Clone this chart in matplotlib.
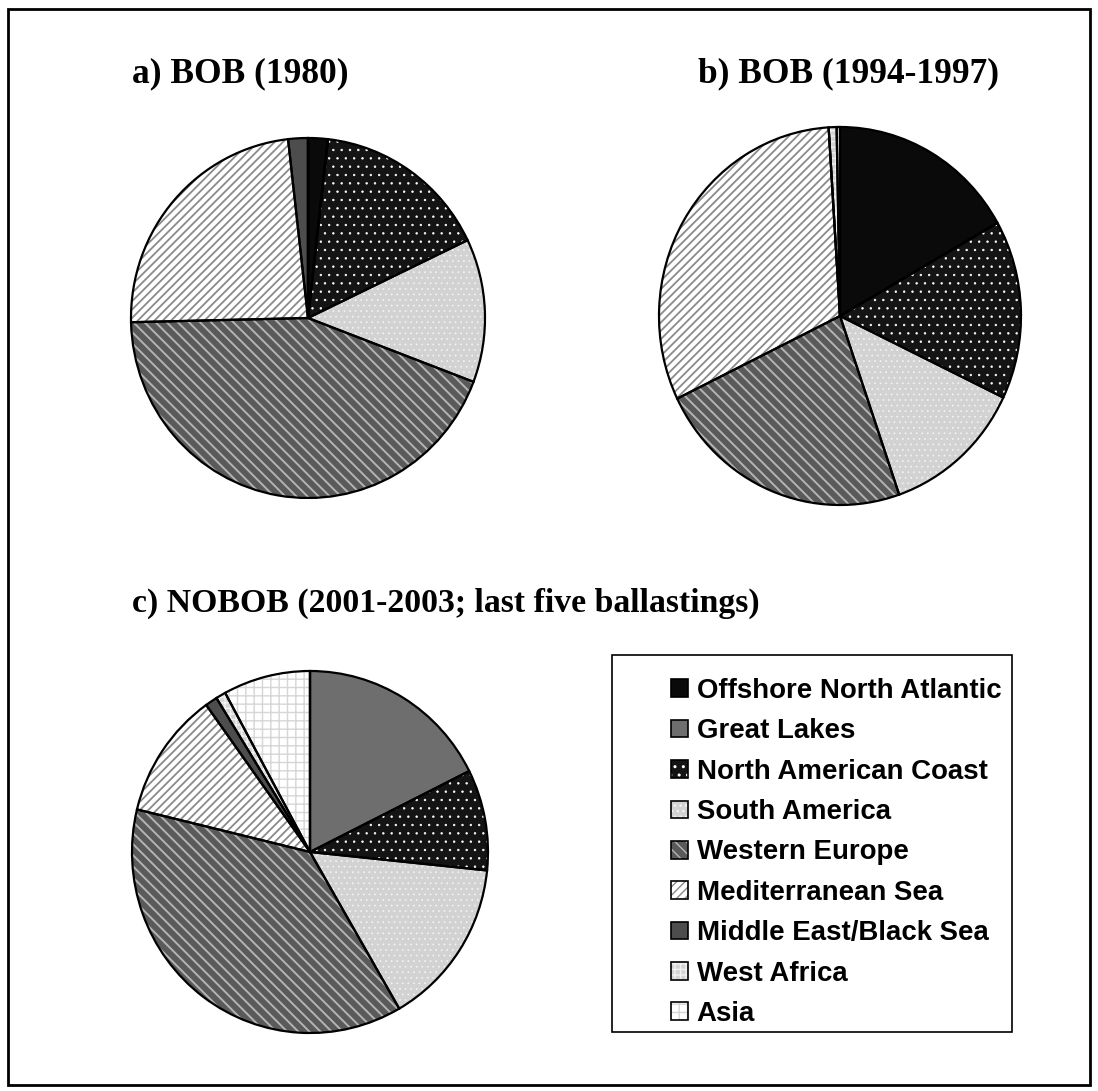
import matplotlib
matplotlib.use("Agg")
import matplotlib.pyplot as plt
from matplotlib.patches import Patch, Rectangle
from matplotlib.font_manager import FontProperties

# regions (legend order = wedge order, clockwise from 12 o'clock)
regions = ["Offshore North Atlantic", "Great Lakes", "North American Coast",
           "South America", "Western Europe", "Mediterranean Sea",
           "Middle East/Black Sea", "West Africa", "Asia"]

# percent of ballast water sources
bob_1980 = [1.8, 0.0, 16.1, 12.9, 43.9, 23.6, 1.8, 0.0, 0.0]
bob_1994_1997 = [16.8, 0.0, 15.3, 12.6, 23.1, 31.2, 0.0, 0.7, 0.3]
nobob_2001_2003 = [0.0, 17.6, 9.0, 15.0, 37.1, 11.3, 1.1, 0.9, 7.9]

titles = ["a) BOB (1980)", "b) BOB (1994-1997)",
          "c) NOBOB (2001-2003; last five ballastings)"]

face_colors = ["#0a0a0a", "#6e6e6e", "#141414", "#d2d2d2", "#5a5a5a",
               "#ffffff", "#4d4d4d", "#d4d4d4", "#ffffff"]
hatches = ["", "", "..", "...", "\\\\\\", "////", "", "+++", "++"]
hatch_colors = ["#0a0a0a", "#6e6e6e", "#ffffff", "#f4f4f4", "#b4b4b4",
                "#8a8a8a", "#4d4d4d", "#f2f2f2", "#d6d6d6"]
hatch_widths = [1.0, 1.0, 0.5, 0.5, 1.4, 1.3, 1.0, 1.0, 1.0]

W, H = 1098, 1091
fig = plt.figure(figsize=(W / 100, H / 100), dpi=100)


def pie_axes(cx, cy, rx, ry, pad=1.04):
    ax = fig.add_axes([(cx - rx * pad) / W, 1 - (cy + ry * pad) / H,
                       2 * rx * pad / W, 2 * ry * pad / H])
    return ax


def set_hatch(p, h, hc, hw):
    p.set_hatch(h)
    p.set_edgecolor(hc)
    if hasattr(p, "set_hatch_linewidth"):
        p.set_hatch_linewidth(hw)


def draw_pie(ax, values, pad=1.04):
    kw = dict(startangle=90, counterclock=False)
    ax.pie(values, colors=face_colors, wedgeprops=dict(linewidth=0), **kw)
    hw, _ = ax.pie(values, colors=["none"] * len(values),
                   wedgeprops=dict(linewidth=0), **kw)
    for w, h, hc, lw in zip(hw, hatches, hatch_colors, hatch_widths):
        set_hatch(w, h, hc, lw)
    ax.pie(values, colors=["none"] * len(values),
           wedgeprops=dict(linewidth=1.6, edgecolor="black"), **kw)
    ax.set_aspect("auto")
    ax.set_xlim(-pad, pad)
    ax.set_ylim(-pad, pad)
    ax.axis("off")


draw_pie(pie_axes(308, 318, 177, 180), bob_1980)
draw_pie(pie_axes(840, 316, 181, 189), bob_1994_1997)
draw_pie(pie_axes(310, 852, 178, 181), nobob_2001_2003)

tfont = dict(family="Liberation Serif", weight="bold")
fig.text(240 / W, 1 - 74 / H, titles[0], ha="center", va="center", size=25.5, **tfont)
fig.text(848 / W, 1 - 74 / H, titles[1], ha="center", va="center", size=25.5, **tfont)
fig.text(132 / W, 1 - 603 / H, titles[2], ha="left", va="center", size=24.3, **tfont)

# legend
handles = []
for fc, h, hc, lw in zip(face_colors, hatches, hatch_colors, hatch_widths):
    hp = Patch(facecolor="none", linewidth=0)
    set_hatch(hp, h, hc, lw)
    handles.append((Patch(facecolor=fc, linewidth=0), hp,
                    Patch(facecolor="none", edgecolor="black", linewidth=1.2)))
fig.legend(handles, regions, loc="upper left",
           bbox_to_anchor=(671 / W, 1 - 678 / H),
           prop=FontProperties(family="Liberation Sans", weight="bold", size=19.9),
           frameon=False, handlelength=0.6, handleheight=0.6,
           handletextpad=0.33, labelspacing=0.52, borderpad=0,
           borderaxespad=0)
fig.add_artist(Rectangle((612 / W, 1 - 1032 / H), 400 / W, 377 / H,
                         transform=fig.transFigure, fill=False,
                         edgecolor="black", linewidth=1.2))
# outer frame
fig.add_artist(Rectangle((8 / W, 1 - 1085 / H), 1082 / W, 1076 / H,
                         transform=fig.transFigure, fill=False,
                         edgecolor="black", linewidth=2))

fig.savefig("out.png", dpi=100)
